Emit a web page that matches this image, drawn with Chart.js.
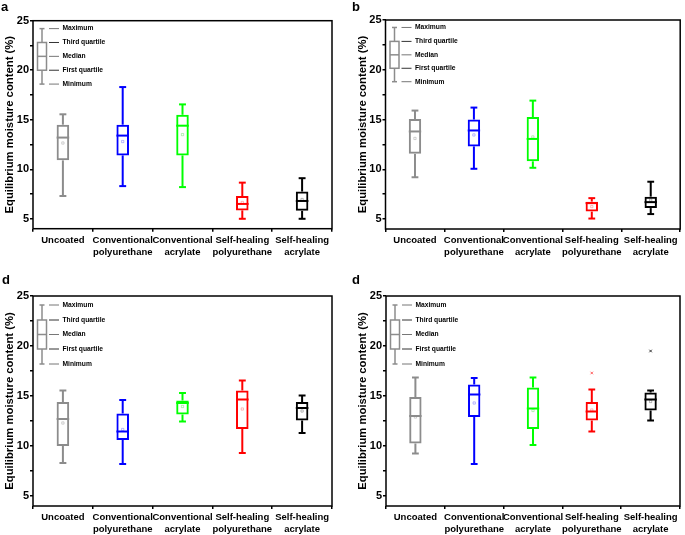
<!DOCTYPE html>
<html>
<head>
<meta charset="utf-8">
<script src="https://cdn.jsdelivr.net/npm/chart.js@4.4.1/dist/chart.umd.min.js"></script>
<style>
    body { margin: 0; background: #fff; }
    #wrap { position: relative; width: 685px; height: 535px; overflow: hidden; font-family: "Liberation Sans", Arial, sans-serif; }
    canvas { position: absolute; }
    .tag { position: absolute; font-weight: bold; font-size: 13px; line-height: 15px; }
</style>
</head>
<body>
<div id="wrap">
    <canvas id="chartA" width="342" height="265" style="left:0;top:0"></canvas>
    <canvas id="chartB" width="343" height="265" style="left:342px;top:0"></canvas>
    <canvas id="chartC" width="342" height="270" style="left:0;top:265px"></canvas>
    <canvas id="chartD" width="343" height="270" style="left:342px;top:265px"></canvas>
    <div class="tag" style="left:1px;top:-1px">a</div>
    <div class="tag" style="left:352px;top:-1px">b</div>
    <div class="tag" style="left:2px;top:272px">d</div>
    <div class="tag" style="left:352px;top:272px">d</div>
</div>
<script>
const categories = [['Uncoated'], ['Conventional', 'polyurethane'], ['Conventional', 'acrylate'], ['Self-healing', 'polyurethane'], ['Self-healing', 'acrylate']];
const guideLabels = ['Minimum', 'First quartile', 'Median', 'Third quartile', 'Maximum'];

// panel a
const minA = [7.3, 8.3, 8.2, 5.0, 5.0];
const q1A = [10.9, 11.4, 11.4, 5.85, 5.8];
const medA = [13.2, 13.4, 14.4, 6.5, 6.8];
const q3A = [14.5, 14.5, 15.5, 7.3, 7.75];
const maxA = [15.55, 18.3, 16.55, 8.65, 9.1];
const meanA = [12.65, 12.8, 13.5, 6.65, 6.95];
const guideA = [18.6, 20.0, 21.4, 22.8, 24.2];

// panel b
const minB = [9.2, 10.05, 10.15, 5.05, 5.5];
const q1B = [11.55, 12.3, 10.8, 5.75, 6.1];
const medB = [13.8, 13.9, 13.05, 6.6, 6.7];
const q3B = [15.05, 15.0, 15.25, 6.75, 7.25];
const maxB = [15.9, 16.2, 16.9, 7.1, 8.75];
const meanB = [13.1, 13.45, 13.25, 6.25, 6.9];
const guideB = [18.8, 20.15, 21.5, 22.85, 24.25];

// panel c (labelled d)
const minC = [8.3, 8.2, 12.45, 9.3, 11.3];
const q1C = [10.0, 10.6, 13.15, 11.7, 12.55];
const medC = [12.7, 11.45, 14.3, 14.65, 13.8];
const q3C = [14.4, 13.25, 14.55, 15.55, 14.4];
const maxC = [15.55, 14.6, 15.3, 16.55, 15.05];
const meanC = [12.3, 11.65, 13.95, 13.7, 13.5];
const guideC = [18.2, 19.7, 21.15, 22.6, 24.1];

// panel d
const minD = [9.25, 8.2, 10.1, 11.45, 12.55];
const q1D = [10.25, 12.9, 11.7, 12.55, 13.55];
const medD = [13.0, 15.15, 13.75, 13.45, 14.65];
const q3D = [14.9, 16.15, 15.85, 14.4, 15.35];
const maxD = [16.85, 16.8, 16.85, 15.65, 15.55];
const meanD = [12.9, 14.3, 13.55, 13.6, 14.45];
const outD = [null, null, null, 17.3, 19.5];
const guideD = [18.2, 19.7, 21.15, 22.6, 24.1];

const boxColors = ['#8c8c8c', '#0000ff', '#00ff00', '#ff0000', '#000000'];
const meanColors = ['rgba(140,140,140,0.5)', 'rgba(0,0,255,0.35)', 'rgba(0,200,0,0.35)', 'rgba(255,0,0,0.35)', 'rgba(0,0,0,0.35)'];
const fontFamily = '"Liberation Sans", Arial, sans-serif';

function line(ctx, x1, y1, x2, y2) {
    ctx.beginPath();
    ctx.moveTo(x1, y1);
    ctx.lineTo(x2, y2);
    ctx.stroke();
}

// whiskers, medians, frame and the little guide box
const boxPlugin = {
    id: 'boxPlot',
    afterDatasetsDraw(chart, args, opts) {
        const ctx = chart.ctx;
        const area = chart.chartArea;
        const y = chart.scales.y;
        const meta = chart.getDatasetMeta(0);

        ctx.save();
        ctx.lineCap = 'butt';
        meta.data.forEach(function (bar, i) {
            const cx = bar.x;
            const half = bar.width / 2;
            const cap = half * 0.55;
            const yMin = y.getPixelForValue(opts.min[i]);
            const yMax = y.getPixelForValue(opts.max[i]);
            const yQ1 = y.getPixelForValue(opts.q1[i]);
            const yQ3 = y.getPixelForValue(opts.q3[i]);
            const yMed = y.getPixelForValue(opts.med[i]);
            ctx.strokeStyle = boxColors[i];
            ctx.lineWidth = 2;
            line(ctx, cx, yQ3, cx, yMax);
            line(ctx, cx, yQ1, cx, yMin);
            line(ctx, cx - cap, yMax, cx + cap, yMax);
            line(ctx, cx - cap, yMin, cx + cap, yMin);
            line(ctx, cx - half, yMed, cx + half, yMed);
        });

        // guide box
        const g = opts.guide.map(v => y.getPixelForValue(v));
        const gx = area.left + 9;
        ctx.strokeStyle = '#8c8c8c';
        ctx.lineWidth = 1.5;
        ctx.strokeRect(gx - 4.5, g[3], 9, g[1] - g[3]);
        line(ctx, gx, g[3], gx, g[4]);
        line(ctx, gx, g[1], gx, g[0]);
        line(ctx, gx - 2.5, g[4], gx + 2.5, g[4]);
        line(ctx, gx - 2.5, g[0], gx + 2.5, g[0]);
        line(ctx, gx - 4.5, g[2], gx + 4.5, g[2]);

        ctx.font = 'bold 6.7px ' + fontFamily;
        ctx.fillStyle = '#000';
        ctx.textBaseline = 'middle';
        ctx.textAlign = 'left';
        g.forEach(function (py, k) {
            ctx.strokeStyle = k % 2 ? '#333' : '#777';
            ctx.lineWidth = 1;
            line(ctx, area.left + 16, py, area.left + 26, py);
            ctx.fillText(guideLabels[k], area.left + 29.5, py);
        });

        // frame
        ctx.strokeStyle = '#000';
        ctx.lineWidth = 1.5;
        ctx.strokeRect(area.left, area.top, area.right - area.left, area.bottom - area.top);
        ctx.restore();
    }
};

function makeChart(id, box, s) {
    const datasets = [{
        type: 'bar',
        data: s.q1.map((v, i) => [v, s.q3[i]]),
        backgroundColor: 'rgba(0,0,0,0)',
        borderColor: boxColors,
        borderWidth: 2,
        borderSkipped: false,
        barPercentage: 0.21,
        categoryPercentage: 1
    }, {
        type: 'line',
        data: s.mean,
        showLine: false,
        pointStyle: 'rect',
        pointRadius: 1.6,
        pointBorderWidth: 0.8,
        pointBorderColor: meanColors,
        pointBackgroundColor: 'rgba(0,0,0,0)'
    }];
    if (s.out) {
        datasets.push({
            type: 'line',
            data: s.out,
            showLine: false,
            pointStyle: 'crossRot',
            pointRadius: 1.8,
            pointBorderWidth: 1,
            pointBorderColor: ['#888', '#00f', '#0c0', 'rgba(255,0,0,0.6)', '#333']
        });
    }

    const titleCenter = box.l - box.x - 23;

    return new Chart(document.getElementById(id), {
        type: 'bar',
        data: { labels: categories, datasets: datasets },
        options: {
            responsive: false,
            animation: false,
            layout: { padding: { left: 0, top: box.t - box.y, right: box.x + box.w - box.r, bottom: 0 } },
            plugins: {
                legend: { display: false },
                tooltip: { enabled: false },
                boxPlot: s
            },
            scales: {
                x: {
                    offset: true,
                    border: { display: false },
                    grid: { display: true, drawOnChartArea: false, tickLength: 3, color: '#000', lineWidth: 1.5 },
                    ticks: {
                        color: '#000',
                        autoSkip: false,
                        maxRotation: 0,
                        padding: 2,
                        font: { family: fontFamily, size: 9.5, weight: 'bold', lineHeight: 1.3 }
                    },
                    afterFit: function (scale) { scale.height = box.y + box.h - box.b; }
                },
                y: {
                    min: 4,
                    max: 25,
                    border: { display: false },
                    grid: { display: true, drawOnChartArea: false, tickLength: 3, color: '#000', lineWidth: 1.5 },
                    ticks: {
                        stepSize: 2.5,
                        includeBounds: false,
                        color: '#000',
                        padding: 1,
                        font: { family: fontFamily, size: 11, weight: 'bold' },
                        callback: function (v) { return v % 5 === 0 ? v : ''; }
                    },
                    title: {
                        display: true,
                        text: 'Equilibrium moisture content (%)',
                        color: '#000',
                        font: { family: fontFamily, size: 11.3, weight: 'bold', lineHeight: 1.2 },
                        padding: { top: titleCenter - 6.8, bottom: 0 }
                    },
                    afterFit: function (scale) { scale.width = box.l - box.x; }
                }
            }
        },
        plugins: [boxPlugin]
    });
}

makeChart('chartA', { x: 0, y: 0, w: 342, h: 265, l: 33, t: 20.7, r: 332, b: 228.7 },
    { min: minA, q1: q1A, med: medA, q3: q3A, max: maxA, mean: meanA, guide: guideA });
makeChart('chartB', { x: 342, y: 0, w: 343, h: 265, l: 385.5, t: 20, r: 683, b: 229 },
    { min: minB, q1: q1B, med: medB, q3: q3B, max: maxB, mean: meanB, guide: guideB });
makeChart('chartC', { x: 0, y: 265, w: 342, h: 270, l: 33, t: 296, r: 332, b: 506 },
    { min: minC, q1: q1C, med: medC, q3: q3C, max: maxC, mean: meanC, guide: guideC });
makeChart('chartD', { x: 342, y: 265, w: 343, h: 270, l: 386, t: 296, r: 682, b: 506 },
    { min: minD, q1: q1D, med: medD, q3: q3D, max: maxD, mean: meanD, out: outD, guide: guideD });
</script>
</body>
</html>
